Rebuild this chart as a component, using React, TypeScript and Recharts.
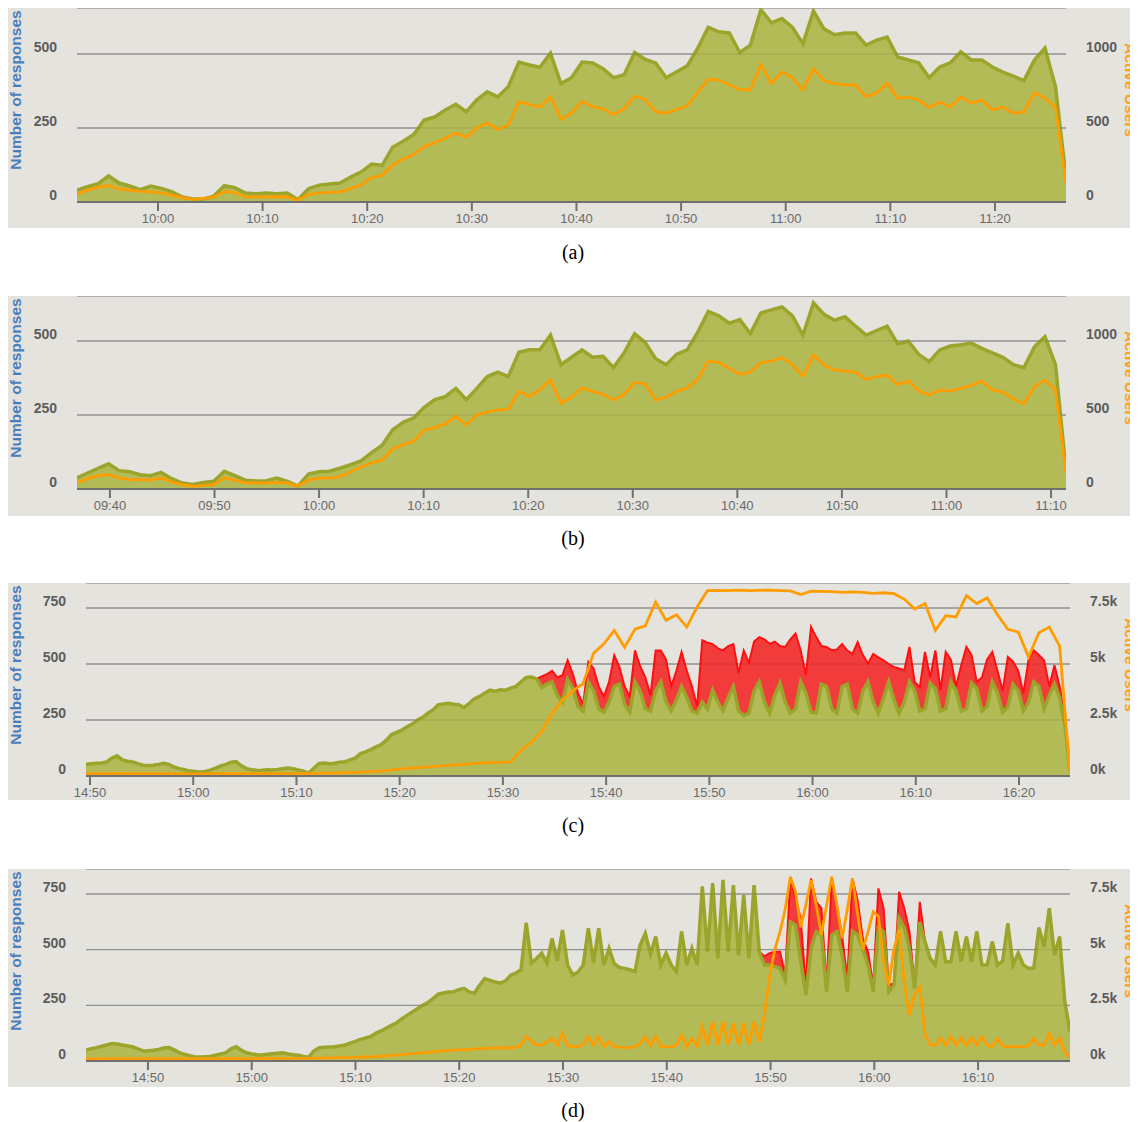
import React from "react";
import { ComposedChart, Area, Line, XAxis, YAxis, CartesianGrid, ReferenceLine } from "recharts";

// time windows, in minutes since midnight (left edge, right edge)
const aRange = [592.26, 686.79];
const bRange = [576.85, 671.43];
const cRange = [889.61, 984.94];
const dRange = [884.03, 978.86];

const aTicks = [600, 610, 620, 630, 640, 650, 660, 670, 680];
const bTicks = [580, 590, 600, 610, 620, 630, 640, 650, 660, 670];
const cTicks = [890, 900, 910, 920, 930, 940, 950, 960, 970, 980];
const dTicks = [890, 900, 910, 920, 930, 940, 950, 960, 970];

const smallLeftTicks = [0, 250, 500];
const smallRightTicks = [0, 500, 1000];
const bigLeftTicks = [0, 250, 500, 750];
const bigRightTicks = [0, 2500, 5000, 7500];

// (a) responses OK / active users
const aOk = [
  40, 52, 62, 88, 64, 54, 42, 54, 46, 35,
  17, 10, 10, 20, 55, 48, 30, 28, 30, 28,
  30, 8, 45, 57, 61, 64, 84, 101, 128, 124,
  185, 205, 228, 277, 287, 311, 330, 305, 345, 372,
  355, 390, 473, 463, 455, 503, 400, 420, 473, 470,
  450, 420, 430, 505, 482, 470, 420, 440, 460, 520,
  590, 575, 571, 505, 530, 650, 605, 620, 590, 535,
  645, 585, 565, 571, 571, 530, 547, 557, 490, 480,
  470, 420, 456, 470, 507, 480, 480, 456, 439, 425,
  410, 480, 520, 390, 84,
];
const aUsers = [
  54, 80, 100, 112, 88, 80, 72, 68, 62, 47,
  30, 18, 25, 34, 70, 65, 34, 34, 34, 36,
  34, 14, 50, 61, 65, 68, 90, 115, 165, 180,
  250, 290, 320, 375, 400, 430, 466, 439, 500, 534,
  490, 520, 676, 660, 642, 710, 560, 600, 680, 645,
  630, 590, 630, 715, 695, 610, 600, 625, 650, 740,
  830, 824, 790, 760, 757, 926, 800, 880, 840, 757,
  900, 820, 800, 791, 791, 710, 737, 804, 700, 710,
  689, 640, 676, 642, 710, 669, 689, 622, 642, 600,
  608, 740, 700, 640, 128,
];

// (b)
const bOk = [
  37, 54, 70, 85, 62, 58, 48, 45, 56, 35,
  20, 15, 22, 26, 60, 45, 30, 27, 28, 37,
  26, 10, 50, 58, 60, 70, 82, 95, 123, 148,
  200, 225, 240, 276, 302, 312, 340, 302, 340, 380,
  395, 380, 462, 470, 470, 520, 420, 445, 470, 445,
  448, 410, 460, 525, 495, 440, 420, 455, 470, 530,
  600, 585, 560, 572, 525, 595, 605, 615, 585, 520,
  629, 590, 570, 582, 550, 520, 535, 550, 490, 500,
  455, 430, 470, 483, 487, 493, 475, 460, 445, 420,
  410, 480, 515, 420, 64,
];
const bUsers = [
  41, 70, 90, 97, 75, 63, 63, 62, 74, 48,
  29, 18, 25, 29, 75, 60, 41, 41, 40, 45,
  41, 20, 60, 74, 74, 85, 115, 150, 176, 195,
  270, 300, 322, 399, 415, 440, 491, 433, 500, 520,
  534, 540, 660, 626, 670, 740, 580, 620, 683, 660,
  640, 602, 640, 720, 710, 600, 620, 660, 683, 740,
  865, 855, 815, 775, 790, 852, 865, 886, 840, 760,
  906, 838, 804, 797, 790, 740, 760, 770, 705, 730,
  662, 635, 669, 662, 680, 700, 730, 669, 655, 610,
  575, 690, 737, 669, 108,
];

// (c)
const cOk = [
  52, 55, 57, 58, 63, 80, 90, 72, 66, 63,
  55, 48, 47, 48, 52, 57, 52, 40, 33, 28,
  22, 20, 18, 20, 26, 35, 45, 52, 62, 64,
  45, 33, 28, 25, 26, 28, 27, 29, 33, 36,
  33, 27, 22, 13, 35, 56, 58, 55, 57, 62,
  64, 72, 80, 100, 108, 118, 130, 140, 160, 185,
  195, 205, 220, 232, 250, 262, 280, 295, 318, 322,
  325, 320, 318, 305, 325, 345, 355, 370, 383, 378,
  385, 383, 392, 400, 420, 440, 442, 433, 395, 410,
  420, 360, 330, 430, 390, 310, 290, 420, 380, 300,
  285, 330, 400, 410, 320, 285, 420, 380, 300, 290,
  380, 420, 330, 290, 340, 400, 350, 290, 280, 330,
  300, 383, 330, 290, 350, 400, 290, 270, 280, 380,
  420, 330, 280, 360, 415, 330, 280, 300, 420, 370,
  285, 280, 410, 400, 300, 280, 400, 410, 300, 280,
  380, 420, 330, 280, 350, 420, 340, 280, 330, 420,
  380, 290, 300, 415, 390, 290, 300, 420, 380, 290,
  300, 415, 390, 290, 310, 420, 370, 285, 310, 410,
  380, 290, 330, 420, 400, 300, 360, 410, 350, 230,
  20,
];
// errors begin at sample 88
const cKoStart = 88;
const cKo = [
  50, 45, 50, 80, 120, 86, 66, 60, 30, 89,
  100, 100, 70, 90, 139, 76, 80, 70, 141, 110,
  140, 70, 180, 140, 190, 110, 130, 154, 120, 110,
  30, 276, 295, 206, 240, 271, 230, 189, 170, 290,
  225, 220, 200, 280, 310, 240, 165, 246, 330, 336,
  140, 80, 380, 340, 170, 176, 261, 285, 189, 150,
  245, 318, 160, 82, 215, 250, 166, 80, 147, 200,
  142, 156, 40, 107, 254, 25, 171, 93, 254, 100,
  20, 204, 276, 125, 30, 150, 210, 134, 100, 95,
  221, 100, 90, 78, 190, 141, 140, 216, 40, 84,
  50, 33, 5,
];
const cUsers = [
  100, 100, 110, 115, 110, 110, 105, 105, 110, 100,
  95, 95, 100, 105, 120, 110, 100, 100, 105, 105,
  110, 110, 115, 125, 135, 150, 165, 185, 205, 240,
  300, 340, 375, 410, 440, 477, 510, 540, 580, 600,
  610, 625, 1150, 1500, 2000, 2800, 3380, 3800, 4125, 5480,
  5900, 6500, 5750, 6550, 6700, 7767, 6950, 7200, 6650, 7544,
  8280, 8290, 8280, 8300, 8280, 8290, 8300, 8280, 8260, 8100,
  8250, 8240, 8230, 8200, 8220, 8200, 8150, 8180, 8140, 7900,
  7450, 7700, 6500, 7150, 7100, 8050, 7700, 7950, 7200, 6550,
  6430, 5312, 6400, 6650, 5800, 180,
];

// (d)
const dOk = [
  49, 55, 60, 66, 72, 78, 76, 72, 68, 64,
  55, 45, 46, 48, 52, 58, 60, 50, 38, 30,
  24, 19, 18, 19, 20, 26, 32, 37, 55, 64,
  48, 37, 32, 28, 27, 30, 33, 35, 37, 32,
  28, 26, 20, 17, 45, 60, 62, 63, 64, 68,
  72, 80, 88, 97, 104, 110, 125, 135, 148, 160,
  172, 190, 205, 220, 235, 250, 262, 280, 300, 305,
  310, 311, 320, 326, 310, 304, 340, 370, 362, 355,
  350, 360, 385, 395, 410, 620, 440, 460, 484, 440,
  550, 450, 588, 430, 386, 400, 431, 596, 440, 596,
  431, 506, 437, 420, 416, 410, 401, 521, 573, 480,
  558, 431, 484, 431, 401, 581, 431, 506, 431, 783,
  491, 798, 461, 813, 491, 790, 476, 745, 461, 790,
  491, 431, 431, 425, 416, 364, 624, 610, 450, 296,
  506, 581, 566, 311, 566, 581, 476, 311, 583, 566,
  500, 431, 311, 598, 581, 311, 341, 641, 598, 506,
  326, 624, 536, 461, 431, 581, 446, 446, 581, 446,
  558, 446, 581, 431, 431, 536, 431, 450, 618, 431,
  484, 431, 416, 416, 598, 513, 686, 476, 558, 266,
  132,
];
const dKoStart = 131;
const dKo = [
  39, 53, 66, 75, 22, 196, 120, 191, 36, 314,
  134, 120, 30, 254, 119, 84, 60, 237, 154, 50,
  60, 30, 177, 105, 30, 9, 119, 88, 75, 15,
  91, 0,
];
const dUsers = [
  90, 90, 95, 95, 100, 100, 100, 100, 100, 100,
  100, 100, 100, 100, 100, 100, 105, 105, 100, 100,
  100, 100, 100, 100, 100, 105, 105, 110, 110, 115,
  110, 110, 110, 110, 110, 115, 115, 115, 115, 120,
  120, 120, 120, 120, 125, 130, 130, 135, 140, 145,
  150, 155, 160, 170, 180, 185, 195, 210, 230, 250,
  270, 290, 310, 330, 350, 370, 390, 410, 430, 450,
  470, 490, 500, 510, 520, 540, 560, 570, 575, 580,
  585, 590, 595, 600, 700, 1100, 900, 718, 718, 850,
  1018, 700, 1242, 680, 643, 643, 750, 1093, 700, 1093,
  643, 868, 643, 620, 600, 598, 620, 800, 1093, 680,
  1093, 643, 643, 643, 700, 1168, 643, 1018, 643, 1542,
  718, 1766, 718, 1766, 718, 1691, 718, 1691, 718, 1766,
  868, 2065, 3800, 5000, 5800, 6800, 8276, 7600, 6000, 7000,
  8127, 7000, 5657, 7000, 8276, 7000, 5508, 6800, 8202, 6600,
  5000, 5800, 6700, 6500, 4500, 3400, 5000, 5900, 3500, 2065,
  3000, 3300, 1200, 718, 700, 1018, 700, 1093, 700, 1050,
  700, 1050, 700, 1093, 700, 650, 1018, 650, 650, 643,
  643, 643, 700, 1018, 700, 720, 1242, 718, 1018, 400,
  150,
];

const FONT = '"Liberation Sans", Arial, sans-serif';
const BG = "#e5e3de";

function buildRows(range: number[], ok: number[], ko?: number[], koStart = 0) {
  const step = (range[1] - range[0]) / (ok.length - 1);
  return ok.map((v, i) => {
    const j = i - koStart;
    const k = ko && j >= 0 && j < ko.length ? ko[j] : 0;
    return { t: range[0] + i * step, ok: v, total: v + k };
  });
}

function buildUsers(range: number[], users: number[]) {
  const step = (range[1] - range[0]) / (users.length - 1);
  return users.map((v, i) => ({ t: range[0] + i * step, users: v }));
}

const fmtTime = (m: number) => {
  const h = Math.floor(m / 60);
  const mm = Math.round(m - h * 60);
  return `${String(h).padStart(2, "0")}:${String(mm).padStart(2, "0")}`;
};

const fmtK = (v: number) => `${v / 1000}k`;

function YTick(props: any) {
  const { x, y, payload, anchor, fmt } = props;
  return (
    <text x={x} y={y - 7} dy="0.35em" textAnchor={anchor} fill="#5c5c5c"
      fontSize={14} fontWeight="bold" fontFamily={FONT}>
      {fmt ? fmt(payload.value) : payload.value}
    </text>
  );
}

function XTick(props: any) {
  const { x, y, payload } = props;
  return (
    <text x={x} y={y} dy="0.71em" textAnchor="middle" fill="#6a6a6a" fontSize={13} fontFamily={FONT}>
      {fmtTime(payload.value)}
    </text>
  );
}

interface PanelProps {
  top: number
  height: number
  left: number
  right: number
  bottom: number
  range: number[]
  xTicks: number[]
  leftMax: number
  rightMax: number
  leftTicks: number[]
  rightTicks: number[]
  rightFmt?: (v: number) => string
  rows: any[]
  users: any[]
  errors?: boolean
}

function Panel(p: PanelProps) {
  return (
    <div style={{ position: "absolute", left: 0, top: p.top, width: 1130, height: p.height, background: BG }}>
      <ComposedChart width={1130} height={p.height} data={p.rows} margin={{ top: 0, right: 0, bottom: 0, left: 0 }}>
        <CartesianGrid vertical={false} stroke="#9c9c9c" strokeWidth={1.3} />
        <XAxis dataKey="t" type="number" domain={p.range} ticks={p.xTicks} allowDataOverflow
          height={p.bottom}
          axisLine={{ stroke: "#707070", strokeWidth: 2 }}
          tickLine={{ stroke: "#707070", strokeWidth: 2 }} tickSize={9} tickMargin={3}
          tick={<XTick />} />
        <YAxis width={p.left} domain={[0, p.leftMax]} ticks={p.leftTicks} allowDataOverflow
          axisLine={false} tickLine={false} tickSize={0} tickMargin={20}
          tick={<YTick anchor="end" />} />
        <YAxis yAxisId="right" orientation="right" width={p.right} domain={[0, p.rightMax]}
          ticks={p.rightTicks} allowDataOverflow axisLine={false} tickLine={false}
          tickSize={0} tickMargin={20} tick={<YTick anchor="start" fmt={p.rightFmt} />} />
        {p.errors && (
          <Area dataKey="total" type="linear" fill="#f23c3c" fillOpacity={1} stroke="#ff1010"
            strokeWidth={2} dot={false} activeDot={false} isAnimationActive={false} />
        )}
        <Area dataKey="ok" type="linear" fill="#b2bb56" fillOpacity={1} stroke="#9ca52b"
          strokeWidth={3.5} dot={false} activeDot={false} isAnimationActive={false} />
        {p.leftTicks.filter((v) => v > 0).map((v) => (
          <ReferenceLine key={v} y={v} stroke="#000" strokeOpacity={0.07} strokeWidth={1.3} />
        ))}
        <Line yAxisId="right" data={p.users} dataKey="users" type="linear" stroke="#ff9d00"
          strokeWidth={2.8} dot={false} activeDot={false} isAnimationActive={false} />
      </ComposedChart>
      <div style={{ position: "absolute", left: 8 - 100, top: 82 - 10, width: 200, height: 20, lineHeight: "20px",
        textAlign: "center", transform: "rotate(-90deg)", color: "#4a7dbc", fontFamily: FONT,
        fontWeight: "bold", fontSize: 15.5, whiteSpace: "nowrap" }}>
        Number of responses
      </div>
      <div style={{ position: "absolute", left: 1122 - 100, top: 82 - 10, width: 200, height: 20, lineHeight: "20px",
        textAlign: "center", transform: "rotate(90deg)", color: "#ffa01a", fontFamily: FONT,
        fontWeight: "bold", fontSize: 15.5, whiteSpace: "nowrap" }}>
        Active Users
      </div>
    </div>
  );
}

function Caption({ y, text }: { y: number; text: string }) {
  return (
    <div style={{ position: "absolute", left: 0, top: y - 14, width: 1130, height: 28, lineHeight: "28px",
      textAlign: "center", fontFamily: '"Liberation Serif", "Times New Roman", serif', fontSize: 20, color: "#000" }}>
      {text}
    </div>
  );
}

export default function App() {
  return (
    <div style={{ position: "relative", width: 1130, height: 1114 }}>
      <style>{"html,body{overflow:hidden}"}</style>
      <Panel top={0} height={220} left={69} right={72} bottom={26} range={aRange} xTicks={aTicks}
        leftMax={655.4} rightMax={1310.8} leftTicks={smallLeftTicks} rightTicks={smallRightTicks}
        rows={buildRows(aRange, aOk)} users={buildUsers(aRange, aUsers)} />
      <Caption y={244} text="(a)" />
      <Panel top={288} height={220} left={69} right={72} bottom={27} range={bRange} xTicks={bTicks}
        leftMax={652} rightMax={1304} leftTicks={smallLeftTicks} rightTicks={smallRightTicks}
        rows={buildRows(bRange, bOk)} users={buildUsers(bRange, bUsers)} />
      <Caption y={530} text="(b)" />
      <Panel top={575} height={217} left={78} right={68} bottom={24} range={cRange} xTicks={cTicks}
        leftMax={861.6} rightMax={8616} leftTicks={bigLeftTicks} rightTicks={bigRightTicks} rightFmt={fmtK}
        rows={buildRows(cRange, cOk, cKo, cKoStart)} users={buildUsers(cRange, cUsers)} errors />
      <Caption y={817} text="(c)" />
      <Panel top={861} height={218} left={78} right={68} bottom={26} range={dRange} xTicks={dTicks}
        leftMax={862.2} rightMax={8622} leftTicks={bigLeftTicks} rightTicks={bigRightTicks} rightFmt={fmtK}
        rows={buildRows(dRange, dOk, dKo, dKoStart)} users={buildUsers(dRange, dUsers)} errors />
      <Caption y={1102} text="(d)" />
    </div>
  );
}
